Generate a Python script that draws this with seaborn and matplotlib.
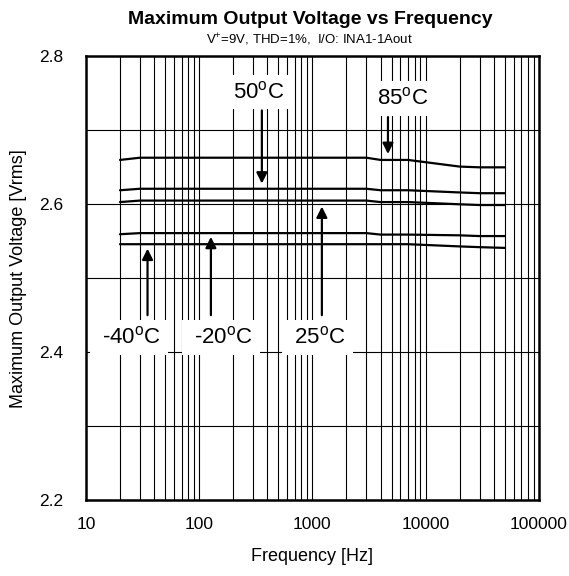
import pandas as pd
import matplotlib
matplotlib.use('Agg')
import matplotlib.pyplot as plt
import matplotlib.ticker as mticker
import seaborn as sns

# Estilo
sns.set_theme(style='white')
plt.rcParams['font.family'] = ['Liberation Sans', 'DejaVu Sans']
plt.rcParams['mathtext.fontset'] = 'custom'
plt.rcParams['mathtext.rm'] = 'Liberation Sans'
plt.rcParams['mathtext.it'] = 'Liberation Sans'
plt.rcParams['text.color'] = 'black'
plt.rcParams['axes.labelcolor'] = 'black'

# Datos
freq = [20, 30, 3000, 4000, 7000, 20000, 30000, 50000]
v_85 = [2.660, 2.663, 2.663, 2.660, 2.660, 2.651, 2.650, 2.650]
v_50 = [2.619, 2.621, 2.621, 2.619, 2.619, 2.616, 2.615, 2.615]
v_25 = [2.603, 2.605, 2.605, 2.603, 2.603, 2.600, 2.599, 2.599]
v_m20 = [2.5595, 2.561, 2.561, 2.559, 2.559, 2.558, 2.557, 2.557]
v_m40 = [2.546, 2.546, 2.546, 2.546, 2.546, 2.543, 2.542, 2.541]

temps = ['85', '50', '25', '-20', '-40']
series = [v_85, v_50, v_25, v_m20, v_m40]

rows = []
for t, vals in zip(temps, series):
    for f, v in zip(freq, vals):
        rows.append({'Frequency': f, 'Voltage': v, 'Temp': t})
df = pd.DataFrame(rows)

# Etiquetas: (texto, x texto, y texto, x flecha, y inicio flecha, y punta)
labels = [
    ('50$^{\\rm o}$C', 337, 2.752, 358, 2.727, 2.628),
    ('85$^{\\rm o}$C', 6300, 2.743, 4650, 2.718, 2.668),
    (' -40$^{\\rm o}$C ', 24, 2.420, 35, 2.450, 2.540),
    (' -20$^{\\rm o}$C ', 157, 2.420, 127, 2.450, 2.556),
    (' 25$^{\\rm o}$C ', 1100, 2.420, 1213, 2.450, 2.597),
]

fig = plt.figure(figsize=(5.69, 5.76), dpi=100)
ax = fig.add_axes([0.151, 0.132, 0.796, 0.770])

sns.lineplot(data=df, x='Frequency', y='Voltage', hue='Temp', units='Temp',
             estimator=None, palette=['black'] * 5, linewidth=1.6,
             legend=False, ax=ax, zorder=4)

ax.set_xscale('log')
ax.set_xlim(10, 100000)
ax.set_ylim(2.2, 2.8)
ax.set_yticks([2.2, 2.4, 2.6, 2.8])
ax.set_yticks([2.3, 2.5, 2.7], minor=True)
ax.xaxis.set_major_formatter(mticker.FuncFormatter(lambda v, p: '%d' % v))
ax.xaxis.set_minor_locator(mticker.LogLocator(base=10, subs=range(2, 10)))
ax.xaxis.set_minor_formatter(mticker.NullFormatter())
ax.yaxis.set_major_formatter(mticker.FormatStrFormatter('%.1f'))
ax.tick_params(axis='both', which='both', length=0, labelsize=12.5,
               colors='black', labelcolor='black')
ax.tick_params(axis='y', pad=16)
ax.tick_params(axis='x', pad=12)
ax.grid(True, which='both', color='black', linewidth=0.8)
ax.set_axisbelow(True)
for s in ax.spines.values():
    s.set_color('black')
    s.set_linewidth(1.8)

ax.set_xlabel('Frequency [Hz]', fontsize=13, labelpad=12)
ax.set_ylabel('Maximum Output Voltage [Vrms]', fontsize=13, labelpad=9)

for txt, tx, ty, axx, y0, tipy in labels:
    ax.text(tx, ty, txt, fontsize=16, ha='center', va='center', zorder=5,
            bbox=dict(boxstyle='square,pad=0.28', fc='white', ec='none'))
    ax.annotate('', xy=(axx, tipy), xytext=(axx, y0), zorder=6,
                arrowprops=dict(arrowstyle='-|>', color='black', lw=1.6,
                                mutation_scale=16, shrinkA=0, shrinkB=0))

fig.text(0.545, 0.967, 'Maximum Output Voltage vs Frequency', fontsize=14,
         fontweight='bold', ha='center', va='center')
fig.text(0.543, 0.93, 'V$^{+}$=9V, THD=1%,  I/O: INA1-1Aout', fontsize=9.5,
         ha='center', va='center')

fig.savefig('out.png', dpi=100)
plt.close(fig)
